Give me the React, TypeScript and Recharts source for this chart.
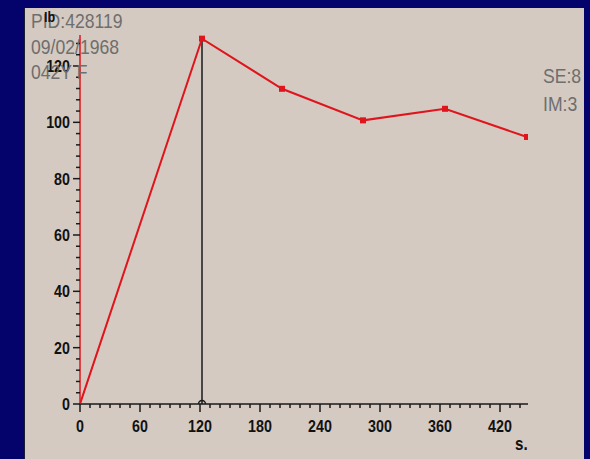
import React from 'react';
import { LineChart, Line, XAxis, YAxis, ReferenceLine, ReferenceDot } from 'recharts';

const times = [0, 122, 202, 283, 365, 447];
const values = [0, 129.7, 111.9, 100.7, 104.8, 94.8];
const xTicks = [0, 10, 20, 30, 40, 50, 60, 70, 80, 90, 100, 110, 120, 130, 140, 150, 160, 170, 180, 190, 200, 210, 220, 230, 240, 250, 260, 270, 280, 290, 300, 310, 320, 330, 340, 350, 360, 370, 380, 390, 400, 410, 420, 430, 440];
const xLabelTicks = [0, 60, 120, 180, 240, 300, 360, 420];
const yTicks = [0, 4, 8, 12, 16, 20, 24, 28, 32, 36, 40, 44, 48, 52, 56, 60, 64, 68, 72, 76, 80, 84, 88, 92, 96, 100, 104, 108, 112, 116, 120, 124, 128];
const yLabelTicks = [0, 20, 40, 60, 80, 100, 120];
const headerLines = ['PID:428119', '09/02/1968', '042Y F'];
const seriesInfo = ['SE:8', 'IM:3'];
const xUnit = 's.';
const yUnit = 'Ib';
const peakTime = 122;
const peakValue = 129.7;

const data = times.map((t, i) => ({ t, v: values[i] }));

const FONT = '"Liberation Sans", Arial, sans-serif';

const NText = (props: any) => {
  const { x, y, anchor = 'start', size, bold, fill, sx = 0.84, children } = props;
  return (
    <g transform={`translate(${x},${y}) scale(${sx},1)`}>
      <text x={0} y={0} textAnchor={anchor} fontFamily={FONT} fontWeight={bold ? 'bold' : 'normal'} fontSize={size} fill={fill}>
        {children}
      </text>
    </g>
  );
};

const XTick = (props: any) => {
  const { x, y, payload } = props;
  const v = payload.value;
  const major = xLabelTicks.includes(v);
  return (
    <g>
      <line x1={x} x2={x} y1={y} y2={y + (major ? 8 : 4)} stroke="#1a1a1a" strokeWidth={1.5} />
      {major && (
        <NText x={x} y={y + 28} anchor="middle" size={17} bold fill="#111">
          {v}
        </NText>
      )}
    </g>
  );
};

const YTick = (props: any) => {
  const { x, y, payload } = props;
  const v = payload.value;
  const major = yLabelTicks.includes(v);
  return (
    <g>
      <line x1={x - (major ? 7 : 4)} x2={x} y1={y} y2={y} stroke="#1a1a1a" strokeWidth={1.5} />
      {major && (
        <NText x={x - 10} y={y + 6} anchor="end" size={17} bold fill="#111">
          {v}
        </NText>
      )}
    </g>
  );
};

const SquareDot = (props: any) => {
  const { cx, cy, index } = props;
  if (index === 0 || cx == null) return <g key={`d${index}`} />;
  return <rect key={`d${index}`} x={cx - 3} y={cy - 3} width={6} height={6} fill="#e0141c" />;
};

const Arc = (props: any) => {
  const { cx, cy } = props;
  return <path d={`M${cx - 3.5},${cy} A3.5,3.5 0 0 1 ${cx + 3.5},${cy}`} fill="none" stroke="#1a1a1a" strokeWidth={1.5} />;
};

export default function App() {
  return (
    <div style={{ position: 'absolute', left: 0, top: 0, width: 590, height: 459, background: '#03036b', overflow: 'hidden' }}>
      <div style={{ position: 'absolute', left: 24, top: 8, width: 560, height: 451, background: '#d4cac1', borderLeft: '1px solid #1c1c30', boxSizing: 'border-box' }} />
      <div style={{ position: 'absolute', left: 0, top: 0 }}>
        <LineChart width={590} height={459} data={data} margin={{ top: 35, right: 62, bottom: 25, left: 20 }}>
          <XAxis
            dataKey="t"
            type="number"
            domain={[0, 448]}
            ticks={xTicks}
            interval={0}
            tickSize={0}
            tickMargin={0}
            tickLine={false}
            tick={<XTick />}
            axisLine={{ stroke: '#1a1a1a', strokeWidth: 1.5 }}
            height={30}
            allowDataOverflow
          />
          <YAxis
            type="number"
            domain={[0, 131]}
            ticks={yTicks}
            interval={0}
            tickSize={0}
            tickMargin={0}
            tickLine={false}
            tick={<YTick />}
            axisLine={{ stroke: '#e0141c', strokeWidth: 1.5 }}
            width={60}
            allowDataOverflow
          />
          <ReferenceLine
            segment={[{ x: peakTime, y: 0 }, { x: peakTime, y: peakValue }]}
            stroke="#1a1a1a"
            strokeWidth={1.5}
          />
          <ReferenceDot x={peakTime} y={0} r={3} shape={<Arc />} />
          <Line
            type="linear"
            dataKey="v"
            stroke="#e0141c"
            strokeWidth={2}
            dot={<SquareDot />}
            activeDot={false}
            isAnimationActive={false}
          />
        </LineChart>
      </div>
      <svg width={590} height={459} style={{ position: 'absolute', left: 0, top: 0, pointerEvents: 'none' }}>
        {headerLines.map((s, i) => (
          <NText key={s} x={31} y={28 + i * 25.5} size={20} sx={0.88} fill="#6e6e6e">
            {s}
          </NText>
        ))}
        {seriesInfo.map((s, i) => (
          <NText key={s} x={543} y={83 + i * 28} size={20} sx={0.88} fill="#6e6e6e">
            {s}
          </NText>
        ))}
        <NText x={44} y={22} size={15} bold fill="#111">
          {yUnit}
        </NText>
        <NText x={515} y={450} size={18} bold fill="#111">
          {xUnit}
        </NText>
      </svg>
    </div>
  );
}
